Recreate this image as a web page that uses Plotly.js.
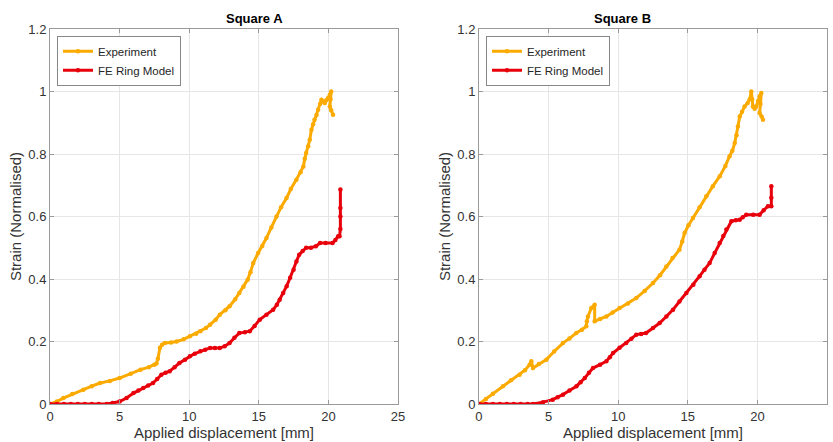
<!DOCTYPE html>
<html><head><meta charset="utf-8">
<script src="https://cdn.plot.ly/plotly-3.0.1.min.js"></script>
<style>html,body{margin:0;padding:0;background:#fff}#plot{width:833px;height:442px}</style>
</head><body><div id="plot"></div>
<script>
// Square A
const expA_x = [0,0.5,0.96,1.6,2.4,3.0,3.6,4.3,5.0,5.8,6.5,7.1,7.5,7.65,7.75,7.9,8.05,8.25,8.7,9.1,9.6,10.05,10.5,10.8,11.2,11.5,11.9,12.2,12.6,12.9,13.3,13.6,13.9,14.2,14.4,14.6,14.95,15.25,15.55,15.9,16.27,16.6,16.99,17.3,17.7,18.0,18.2,18.3,18.4,18.55,18.66,18.78,18.9,19.0,19.15,19.26,19.4,19.5,19.6,19.74,19.85,19.98,20.1,20.2,20.15,20.1,20.2,20.33];
const expA_y = [0,0.008,0.019,0.032,0.046,0.057,0.067,0.074,0.083,0.097,0.11,0.118,0.126,0.13,0.145,0.18,0.19,0.195,0.197,0.2,0.207,0.217,0.225,0.233,0.243,0.254,0.27,0.286,0.3,0.313,0.335,0.355,0.375,0.398,0.422,0.451,0.483,0.506,0.531,0.565,0.6,0.63,0.659,0.688,0.718,0.742,0.76,0.785,0.803,0.825,0.846,0.878,0.895,0.91,0.925,0.942,0.96,0.974,0.968,0.963,0.972,0.979,0.99,1.0,0.975,0.952,0.94,0.926];
const feA_x = [0,0.5,1,1.5,2,2.5,3,3.5,4.07,4.5,5.0,5.5,6.0,6.35,6.7,7.05,7.4,7.7,8.0,8.3,8.6,8.95,9.3,9.7,10.05,10.4,10.8,11.15,11.5,11.85,12.2,12.55,12.9,13.25,13.6,14.0,14.35,14.7,15.07,15.55,16.03,16.3,16.5,16.75,17.0,17.25,17.5,17.7,17.9,18.15,18.4,18.75,19.1,19.4,19.8,20.3,20.5,20.7,20.8,20.86,20.86,20.86,20.86];
const feA_y = [0,0,0,0,0,0,0,0,0,0.003,0.008,0.019,0.035,0.043,0.051,0.059,0.067,0.08,0.094,0.1,0.105,0.118,0.131,0.142,0.153,0.161,0.169,0.174,0.179,0.179,0.179,0.185,0.195,0.212,0.227,0.23,0.233,0.25,0.27,0.286,0.302,0.318,0.334,0.355,0.377,0.404,0.43,0.456,0.478,0.49,0.5,0.5,0.505,0.515,0.515,0.515,0.525,0.537,0.537,0.56,0.6,0.627,0.686];
// Square B
const expB_x = [0,0.5,1.0,1.72,2.3,2.92,3.3,3.64,3.76,3.88,4.3,4.84,5.4,6.03,6.5,6.99,7.4,7.71,7.75,7.83,8.07,8.31,8.31,8.7,9.15,9.6,10.1,10.7,11.3,11.9,12.5,13.0,13.46,13.9,14.4,14.6,14.77,15.05,15.37,15.85,16.33,16.8,17.3,17.7,18.0,18.2,18.37,18.5,18.6,18.73,18.9,19.08,19.3,19.45,19.56,19.62,19.68,19.8,19.92,20.05,20.16,20.28,20.22,20.16,20.3,20.4];
const expB_y = [0,0.016,0.033,0.057,0.076,0.094,0.108,0.126,0.137,0.115,0.128,0.142,0.168,0.195,0.21,0.227,0.238,0.249,0.265,0.28,0.307,0.318,0.265,0.272,0.28,0.293,0.307,0.322,0.339,0.362,0.387,0.412,0.44,0.467,0.494,0.52,0.547,0.572,0.595,0.63,0.665,0.697,0.729,0.762,0.793,0.81,0.835,0.86,0.888,0.92,0.935,0.952,0.963,0.975,1.0,0.975,0.952,0.945,0.952,0.97,0.985,0.995,0.96,0.931,0.92,0.91];
const feB_x = [0,0.5,1,1.5,2,2.5,3,3.5,3.88,4.6,5.3,5.65,6.03,6.5,7.0,7.3,7.6,7.9,8.19,8.7,9.15,9.4,9.63,10.1,10.58,10.95,11.3,11.65,12.0,12.5,12.98,13.46,13.94,14.4,14.9,15.4,15.85,16.2,16.57,16.93,17.29,17.55,17.77,18.13,18.45,18.73,18.95,19.2,19.7,20.16,20.45,20.76,21.0,21.0,21.0];
const feB_y = [0,0,0,0,0,0,0,0,0,0.006,0.014,0.022,0.03,0.043,0.057,0.07,0.083,0.1,0.115,0.126,0.137,0.15,0.163,0.18,0.195,0.209,0.222,0.224,0.227,0.243,0.259,0.28,0.302,0.328,0.355,0.382,0.409,0.43,0.451,0.483,0.515,0.538,0.558,0.585,0.588,0.59,0.598,0.606,0.606,0.606,0.62,0.633,0.633,0.66,0.697];

const legendLabels = ['Experiment','FE Ring Model'];
const titles = ['Square A','Square B'];
const xTicks = [0,5,10,15,20,25];
const yTicks = [0,0.2,0.4,0.6,0.8,1,1.2];
const yTickText = ['0','0.2','0.4','0.6','0.8','1','1.2'];

const ORANGE = '#fbaa00', RED = '#e8000b';
function tr(x,y,name,color,xa,ya,leg){
  return {x:x,y:y,name:name,type:'scatter',mode:'lines+markers',xaxis:xa,yaxis:ya,legend:leg,
    line:{color:color,width:3},marker:{color:color,size:4.5}};
}
const data = [
  tr(expA_x,expA_y,legendLabels[0],ORANGE,'x','y','legend'),
  tr(feA_x,feA_y,legendLabels[1],RED,'x','y','legend'),
  tr(expB_x,expB_y,legendLabels[0],ORANGE,'x2','y2','legend2'),
  tr(feB_x,feB_y,legendLabels[1],RED,'x2','y2','legend2')
];
const font = {family:'Liberation Sans, Arial, sans-serif', color:'#262626'};
function xax(dom, anchor){
  return {domain:dom, anchor:anchor, range:[0,25], tickvals:xTicks, ticktext:xTicks.map(String),
    showgrid:true, gridcolor:'#e6e6e6', zeroline:false, showline:true, linecolor:'#9a9a9a', linewidth:1,
    mirror:'ticks', ticks:'inside', ticklen:4, tickcolor:'#9a9a9a', tickfont:{size:13, color:'#333'},
    title:{text:'Applied displacement [mm]', font:{size:15,color:'#333'}, standoff:2}};
}
function yax(anchor){
  return {domain:[0,1], anchor:anchor, range:[0,1.2], tickvals:yTicks, ticktext:yTickText,
    showgrid:true, gridcolor:'#e6e6e6', zeroline:false, showline:true, linecolor:'#9a9a9a', linewidth:1,
    mirror:'ticks', ticks:'inside', ticklen:4, tickcolor:'#9a9a9a', tickfont:{size:13, color:'#333'},
    title:{text:'Strain (Normalised)', font:{size:15,color:'#333'}, standoff:3}};
}
const legStyle = (x)=>({x:x, y:0.982, xanchor:'left', yanchor:'top', bgcolor:'#fff', bordercolor:'#888', borderwidth:1,
  font:{size:11.5,color:'#262626'}, tracegroupgap:0, itemwidth:30, traceorder:'normal'});
const layout = {
  width:833, height:442, paper_bgcolor:'#fff', plot_bgcolor:'#fff', font:font,
  margin:{l:50, r:6, t:29, b:38},
  xaxis: xax([0,0.4479],'y'), yaxis: yax('x'),
  xaxis2: xax([0.5521,1],'y2'), yaxis2: yax('x2'),
  legend: legStyle(0.009), legend2: legStyle(0.5611),
  annotations:[
    {text:'<b>'+titles[0]+'</b>', xref:'paper', yref:'paper', x:0.224, y:1, yanchor:'bottom', showarrow:false, font:{size:13,color:'#000'}, yshift:1},
    {text:'<b>'+titles[1]+'</b>', xref:'paper', yref:'paper', x:0.776, y:1, yanchor:'bottom', showarrow:false, font:{size:13,color:'#000'}, yshift:1}
  ]
};
Plotly.newPlot('plot', data, layout, {displayModeBar:false, staticPlot:true});
</script></body></html>
